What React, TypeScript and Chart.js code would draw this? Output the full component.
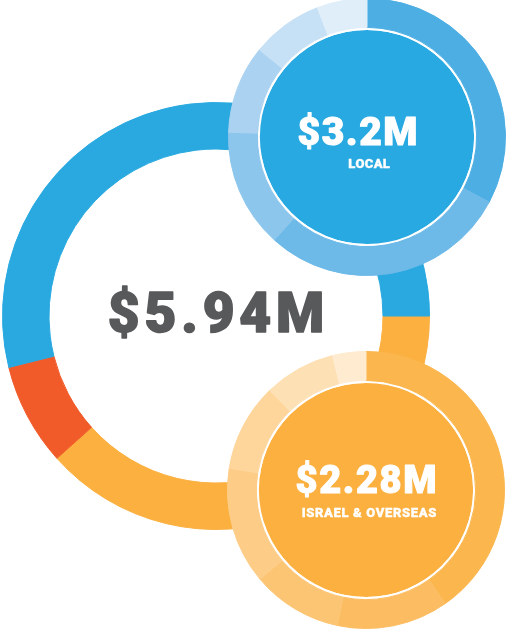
import React, { useEffect, useRef } from 'react';
import { Chart, registerables } from 'chart.js';

Chart.register(...registerables);

// ---- data ----
const totalCategories = ['Israel & Overseas', 'Other', 'Local'];
const totalValues = [2.28, 0.46, 3.2];
const totalColors = ['#fbb040', '#f15a29', '#29a9e0'];
const totalLabel = '$5.94M';

const localLabel = '$3.2M';
const localCaption = 'LOCAL';
const localRingValues = [118, 104, 50, 37, 30, 21];
const localRingColors = ['#4caee3', '#6db9e8', '#8dc6ec', '#abd3f1', '#c6e0f5', '#e0eefa'];
const localFill = '#29a9e1';

const overseasLabel = '$2.28M';
const overseasCaption = 'ISRAEL & OVERSEAS';
const overseasRingValues = [145, 47, 38, 49, 37, 30, 14];
const overseasRingColors = ['#fbb64e', '#fcbd62', '#fcc574', '#fdcd88', '#fed59b', '#fee0b5', '#feebd0'];
const overseasFill = '#fbb040';

type Line = { text: string; size: number; color: string; dx: number; dy: number; width: number; stroke: number };

function drawSpaced(ctx: CanvasRenderingContext2D, text: string, cx: number, baseline: number, width: number, stroke: number) {
  const chars = Array.from(text);
  const widths = chars.map((c) => ctx.measureText(c).width);
  const total = widths.reduce((a, b) => a + b, 0);
  const gap = chars.length > 1 ? (width - stroke - total) / (chars.length - 1) : 0;
  let x = cx - (width - stroke) / 2;
  chars.forEach((c, i) => {
    ctx.fillText(c, x, baseline);
    if (stroke > 0) ctx.strokeText(c, x, baseline);
    x += widths[i] + gap;
  });
}

function textPlugin(lines: Line[]) {
  return {
    id: 'centerText',
    afterDraw(chart: any) {
      const ctx: CanvasRenderingContext2D = chart.ctx;
      const { left, right, top, bottom } = chart.chartArea;
      const cx = (left + right) / 2;
      const cy = (top + bottom) / 2;
      ctx.save();
      ctx.textAlign = 'left';
      ctx.textBaseline = 'alphabetic';
      ctx.lineJoin = 'round';
      lines.forEach((l) => {
        ctx.font = `900 ${l.size}px Roboto, "Noto Sans", sans-serif`;
        ctx.fillStyle = l.color;
        ctx.strokeStyle = l.color;
        ctx.lineWidth = l.stroke;
        drawSpaced(ctx, l.text, cx + l.dx, cy + l.dy - l.stroke / 2, l.width, l.stroke);
      });
      ctx.restore();
    },
  };
}

const baseOptions: any = {
  responsive: false,
  animation: false,
  events: [],
  layout: { padding: 0 },
  plugins: { legend: { display: false }, tooltip: { enabled: false } },
};

function makeGauge(canvas: HTMLCanvasElement, ringValues: number[], ringColors: string[], fill: string, lines: Line[]) {
  return new Chart(canvas, {
    type: 'doughnut',
    data: {
      labels: ringValues.map((_, i) => `s${i + 1}`),
      datasets: [
        {
          data: ringValues,
          backgroundColor: ringColors,
          borderColor: ringColors,
          borderWidth: 1,
          weight: 29,
          hoverOffset: 0,
          offset: 0,
        } as any,
        {
          data: [1],
          backgroundColor: ['#ffffff'],
          borderWidth: 0,
          weight: 2.5,
          hoverOffset: 0,
          offset: 0,
        } as any,
        {
          data: [1],
          backgroundColor: [fill],
          borderWidth: 0,
          weight: 107.5,
          hoverOffset: 0,
          offset: 0,
        } as any,
      ],
    },
    options: { ...baseOptions, cutout: 0, rotation: 0 },
    plugins: [textPlugin(lines)],
  });
}

export default function App() {
  const bigRef = useRef<HTMLCanvasElement>(null);
  const localRef = useRef<HTMLCanvasElement>(null);
  const overseasRef = useRef<HTMLCanvasElement>(null);

  useEffect(() => {
    document.body.style.margin = '0';
    const charts: Chart[] = [];
    if (bigRef.current) {
      charts.push(
        new Chart(bigRef.current, {
          type: 'doughnut',
          data: {
            labels: totalCategories,
            datasets: [
              {
                data: totalValues,
                backgroundColor: totalColors,
                borderColor: totalColors,
                borderWidth: 1,
                hoverOffset: 0,
                offset: 0,
              } as any,
            ],
          },
          options: { ...baseOptions, cutout: 167, rotation: 90 },
          plugins: [
            textPlugin([{ text: totalLabel, size: 55, color: '#58595b', dx: 0, dy: 17, width: 218, stroke: 1.5 }]),
          ],
        })
      );
    }
    if (localRef.current) {
      charts.push(
        makeGauge(localRef.current, localRingValues, localRingColors, localFill, [
          { text: localLabel, size: 39, color: '#ffffff', dx: -9.5, dy: 8, width: 121, stroke: 1 },
          { text: localCaption, size: 13, color: '#ffffff', dx: 2, dy: 31, width: 42, stroke: 0.3 },
        ])
      );
    }
    if (overseasRef.current) {
      charts.push(
        makeGauge(overseasRef.current, overseasRingValues, overseasRingColors, overseasFill, [
          { text: overseasLabel, size: 38, color: '#ffffff', dx: 0, dy: 3, width: 142, stroke: 1 },
          { text: overseasCaption, size: 13, color: '#ffffff', dx: 3, dy: 27, width: 135, stroke: 0.3 },
        ])
      );
    }
    return () => charts.forEach((c) => c.destroy());
  }, []);

  return (
    <div style={{ position: 'absolute', left: 0, top: 0, width: 508, height: 631, overflow: 'hidden', background: '#ffffff' }}>
      <canvas ref={bigRef} width={428} height={428} style={{ position: 'absolute', left: 2, top: 102 }} />
      <canvas ref={localRef} width={278} height={278} style={{ position: 'absolute', left: 228, top: -2 }} />
      <canvas ref={overseasRef} width={278} height={278} style={{ position: 'absolute', left: 227, top: 351 }} />
    </div>
  );
}
